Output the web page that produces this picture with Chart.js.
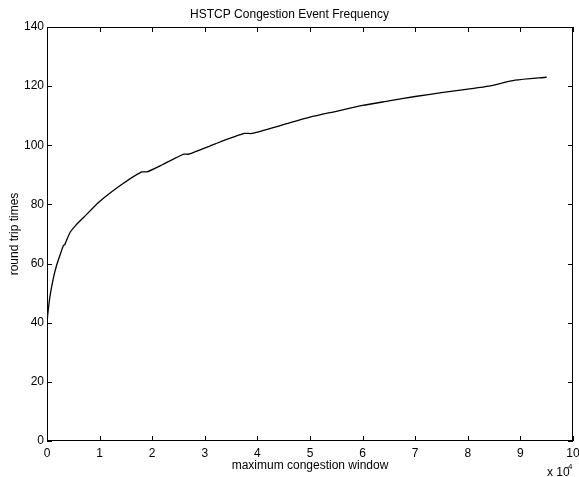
<!DOCTYPE html>
<html><head><meta charset="utf-8">
<script src="https://cdn.jsdelivr.net/npm/chart.js@4"></script>
<style>html,body{margin:0;padding:0;background:#fff}#wrap{width:579px;height:477px}</style>
</head><body><div id="wrap"><canvas id="c" width="579" height="477"></canvas></div>
<script>
const windowSizes = [0, 100, 250, 570, 1200, 1840, 2500, 3100, 3400, 4370, 5500, 6900, 10000, 14000, 18000, 19000, 22000, 26000, 27000, 32000, 37500, 39000, 45000, 50000, 55000, 60000, 65000, 70000, 75000, 80000, 84000, 89000, 95000];
const roundTrips  = [38, 42, 44.5, 49, 55, 59.5, 63, 66, 66.5, 70.5, 73, 75.5, 81, 86.5, 91, 91, 93.5, 97, 97, 100.5, 104, 104, 107, 109.5, 111.5, 113.5, 115, 116.5, 117.8, 119, 120, 122, 123];
const xTicks = [0, 10000, 20000, 30000, 40000, 50000, 60000, 70000, 80000, 90000, 100000];
const yTicks = [0, 20, 40, 60, 80, 100, 120, 140];
const FONT = 'Liberation Sans, Arial, Helvetica, sans-serif';

const boxTicks = {
  id: 'boxTicks',
  afterDraw(chart) {
    const {ctx, chartArea: a, scales: {x, y}} = chart;
    ctx.save();
    ctx.strokeStyle = '#000';
    ctx.lineWidth = 1;
    ctx.strokeRect(a.left + 0.5, a.top + 0.5, a.right - a.left - 1, a.bottom - a.top - 1);
    const L = 5;
    ctx.beginPath();
    xTicks.forEach(v => {
      const px = Math.round(x.getPixelForValue(v)) + 0.5;
      ctx.moveTo(px, a.bottom); ctx.lineTo(px, a.bottom - L);
      ctx.moveTo(px, a.top); ctx.lineTo(px, a.top + L);
    });
    yTicks.forEach(v => {
      const py = Math.round(y.getPixelForValue(v)) + 0.5;
      ctx.moveTo(a.left, py); ctx.lineTo(a.left + L, py);
      ctx.moveTo(a.right, py); ctx.lineTo(a.right - L, py);
    });
    ctx.stroke();
    ctx.fillStyle = '#000';
    ctx.textBaseline = 'alphabetic';
    ctx.textAlign = 'left';
    ctx.font = '12px ' + FONT;
    ctx.fillText('x 10', 547, 476);
    ctx.font = '8px ' + FONT;
    ctx.fillText('4', 568, 469);
    ctx.restore();
  }
};

new Chart(document.getElementById('c'), {
  type: 'line',
  data: {
    datasets: [{
      data: windowSizes.map((w, i) => ({x: w, y: roundTrips[i]})),
      borderColor: '#000',
      borderWidth: 1.3,
      pointRadius: 0,
      tension: 0.2,
      fill: false
    }]
  },
  options: {
    responsive: false,
    animation: false,
    layout: {padding: {top: 0, right: 0, left: 0, bottom: 0}},
    plugins: {
      legend: {display: false},
      tooltip: {enabled: false},
      title: {
        display: true,
        text: 'HSTCP Congestion Event Frequency',
        color: '#000',
        font: {family: FONT, size: 12, weight: 'normal'},
        padding: {top: 7, bottom: 5.6}
      }
    },
    scales: {
      x: {
        type: 'linear', min: 0, max: 100000,
        afterBuildTicks: s => { s.ticks = xTicks.map(v => ({value: v})); },
        afterFit: s => { s.height = 36; s.paddingRight = 6; },
        grid: {display: false, drawTicks: false},
        border: {display: false},
        ticks: {
          color: '#000', padding: 5, maxRotation: 0, autoSkip: false,
          font: {family: FONT, size: 12},
          callback: v => String(v / 10000)
        },
        title: {
          display: true, text: 'maximum congestion window', color: '#000',
          font: {family: FONT, size: 12}, padding: {top: 0, bottom: 3.8}
        }
      },
      y: {
        type: 'linear', min: 0, max: 140,
        afterBuildTicks: s => { s.ticks = yTicks.map(v => ({value: v})); },
        afterFit: s => { s.width = 47; },
        grid: {display: false, drawTicks: false},
        border: {display: false},
        ticks: {
          color: '#000', padding: 3, autoSkip: false,
          font: {family: FONT, size: 12}
        },
        title: {
          display: true, text: 'round trip times', color: '#000',
          font: {family: FONT, size: 12}, padding: {top: 7.8, bottom: 0}
        }
      }
    }
  },
  plugins: [boxTicks]
});
</script></body></html>
